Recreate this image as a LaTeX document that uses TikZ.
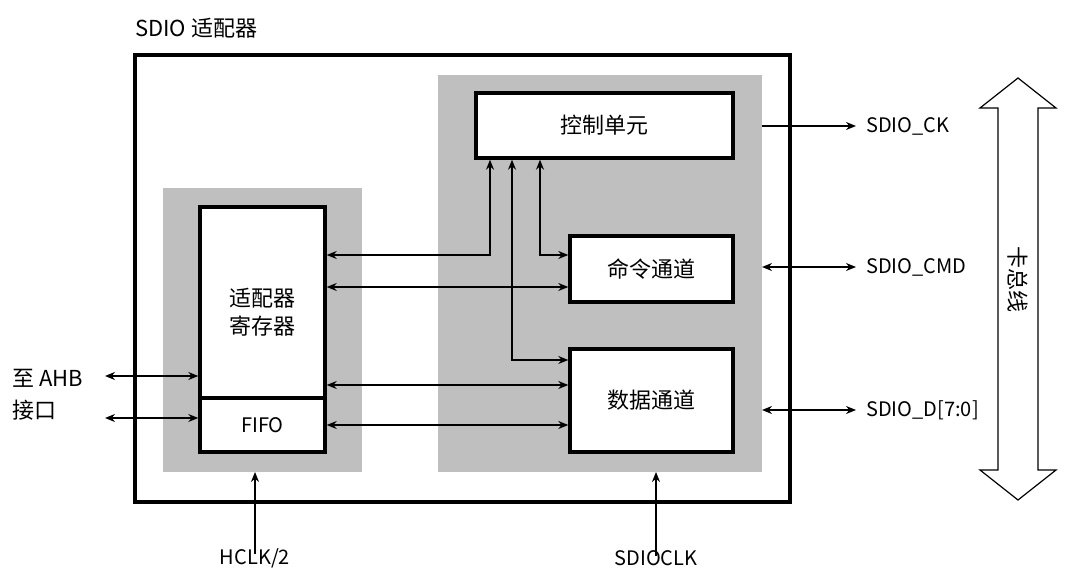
\documentclass[tikz,border=0pt]{standalone}
\usepackage{fontspec}
\setmainfont{Noto Sans CJK SC}
\usetikzlibrary{arrows.meta,shapes.arrows}
\begin{document}
\begin{tikzpicture}[x=1pt,y=-1pt,
  box/.style={draw,line width=3.4pt,fill=white},
  gray/.style={fill=black!25,draw=none},
  ar/.style={-{Stealth[length=10pt,width=8pt]},line width=1.3pt},
  dar/.style={{Stealth[length=10pt,width=8pt]}-{Stealth[length=10pt,width=8pt]},line width=1.3pt},
  lbl/.style={font=\fontsize{20}{24}\selectfont,inner sep=0pt},
  big/.style={font=\fontsize{22}{28}\selectfont,inner sep=0pt}]
\useasboundingbox (0,0) rectangle (1080,585);
\node[big,anchor=west] (title) at (135,28) {SDIO 适配器};
\draw[line width=3.4pt] (135,55) rectangle (790,502);
\fill[gray] (163,188) rectangle (362,472);
\fill[gray] (438,75) rectangle (762,472);
\node[box,minimum width=257pt,minimum height=65pt,big] (ctl) at (604.5,125.5) {控制单元};
\node[box,minimum width=163pt,minimum height=66pt,big] (cmd) at (651.5,269) {命令通道};
\node[box,minimum width=163pt,minimum height=103pt,big] (dat) at (651.5,400.5) {数据通道};
\node[box,minimum width=125pt,minimum height=191pt,big,align=center] (reg) at (262.5,302.5) {\\[10pt]适配器\\寄存器};
\node[box,minimum width=125pt,minimum height=54pt,lbl] (fifo) at (262.5,425) {FIFO};
\coordinate (c1) at (490,255);
\coordinate (c2) at (540,255);
\coordinate (c3) at (512,360);
\draw[dar] (reg.east |- c1) -- (c1) -- (c1 |- ctl.south);
\draw[dar] (cmd.west |- c2) -- (c2) -- (c2 |- ctl.south);
\draw[dar] (dat.west |- c3) -- (c3) -- (c3 |- ctl.south);
\draw[dar] (reg.east |- 0,287) -- (cmd.west |- 0,287);
\draw[dar] (reg.east |- 0,385) -- (dat.west |- 0,385);
\draw[dar] (fifo.east |- 0,425) -- (dat.west |- 0,425);
\node[lbl,anchor=west] (ck) at (866,126) {SDIO\_CK};
\node[lbl,anchor=west] (cmdl) at (866,267) {SDIO\_CMD};
\node[lbl,anchor=west] (dl) at (866,410) {SDIO\_D[7:0]};
\draw[ar] (762,126) -- ([xshift=-10pt]ck.west);
\draw[dar] (762,267) -- ([xshift=-10pt]cmdl.west);
\draw[dar] (762,410) -- ([xshift=-10pt]dl.west);
\node[big,anchor=west] (ahb1) at (12,378) {至 AHB};
\node[big,anchor=west] (ahb2) at (12,410) {接口};
\draw[dar] (105,376) -- (reg.west |- 0,376);
\draw[dar] (105,418) -- (fifo.west |- 0,418);
\node[lbl] (hclk) at (255,558) {HCLK/2};
\node[lbl] (sclk) at (656,558) {SDIOCLK};
\draw[ar] ([yshift=-6pt]hclk.north) -- (255,472);
\draw[ar] ([yshift=-6pt]sclk.north) -- (656,472);
\draw[line width=1.2pt,fill=white] (1018,78) -- (1056,108) -- (1038,108) -- (1038,470) -- (1056,470) -- (1018,500) -- (980,470) -- (998,470) -- (998,108) -- (980,108) -- cycle;
\node[big,rotate=-90] (bus) at (1018,280) {卡总线};
\end{tikzpicture}
\end{document}
